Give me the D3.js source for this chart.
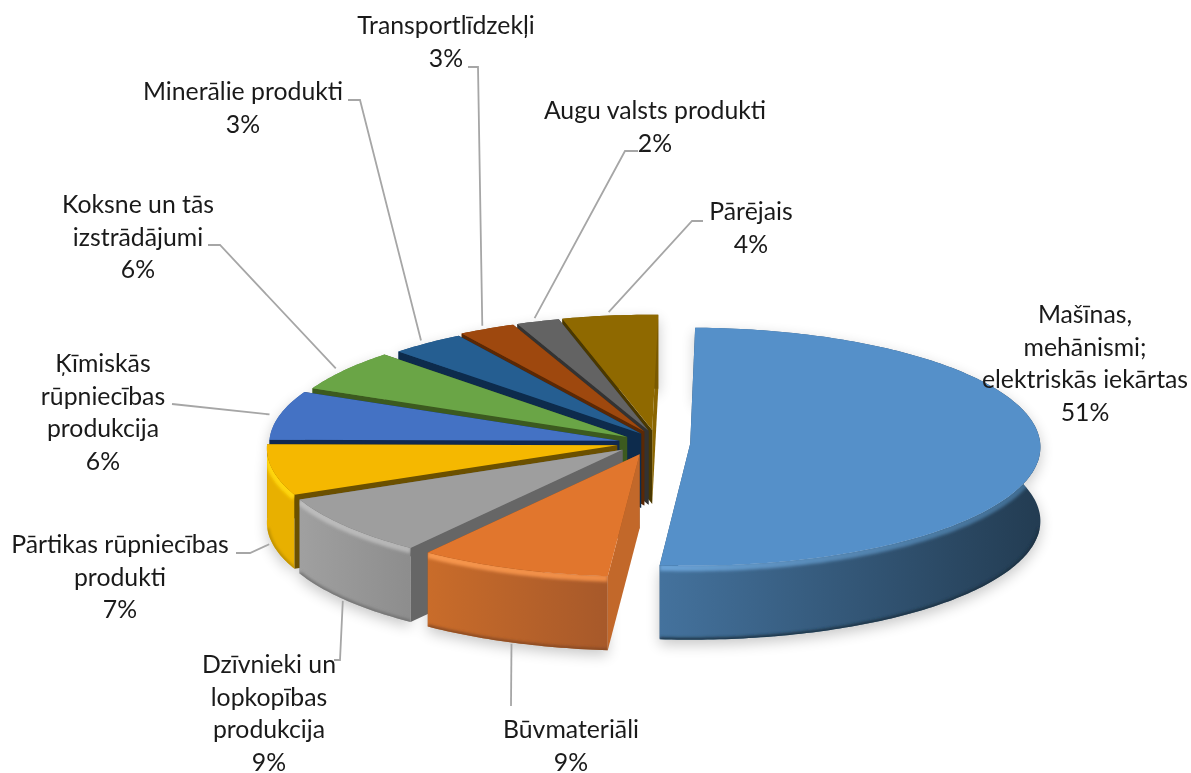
<!DOCTYPE html>
<html>
<head>
<meta charset="utf-8">
<script src="https://cdn.jsdelivr.net/npm/d3@7"></script>
<style>
  html, body { margin: 0; background: #fff; }
  text { font-family: Lato, "Open Sans", sans-serif; font-size: 24.8px; fill: #1a1a1a; text-anchor: middle; }
</style>
</head>
<body>
<div id="chart"></div>
<script>
const names = ["Mašīnas, mehānismi; elektriskās iekārtas", "Būvmateriāli", "Dzīvnieki un lopkopības produkcija",
  "Pārtikas rūpniecības produkti", "Ķīmiskās rūpniecības produkcija", "Koksne un tās izstrādājumi",
  "Minerālie produkti", "Transportlīdzekļi", "Augu valsts produkti", "Pārējais"];
// slice sizes, the printed labels are rounded
const shares = [51.3, 8.7, 8.2, 6.9, 6.7, 5.7, 3.55, 2.7, 2.05, 4.55];
const percentLabels = ["51%", "9%", "9%", "7%", "6%", "6%", "3%", "3%", "2%", "4%"];

// how each label wraps
const labelLines = [
  ["Mašīnas,", "mehānismi;", "elektriskās iekārtas"], ["Būvmateriāli"], ["Dzīvnieki un", "lopkopības", "produkcija"],
  ["Pārtikas rūpniecības", "produkti"], ["Ķīmiskās", "rūpniecības", "produkcija"], ["Koksne un tās", "izstrādājumi"],
  ["Minerālie produkti"], ["Transportlīdzekļi"], ["Augu valsts produkti"], ["Pārējais"]
];

const topColors = ["#5590c9", "#e1762d", "#9e9e9e", "#f5b800", "#4472c4", "#6aa546", "#255e91", "#9e480e", "#636363", "#8f6900"];
const wallLeft = ["#44729d", "#c96c2a", "#a0a0a0", "#e8b000", "#3a62a8", "#5a8c3b", "#1f4f7b", "#863d0c", "#545454", "#7a5900"];
const wallRight = ["#233c52", "#a7592a", "#8d8d8d", "#e8b000", "#3a62a8", "#5a8c3b", "#1f4f7b", "#863d0c", "#545454", "#7a5900"];
const sideColors = ["#2f5272", "#c2682a", "#666666", "#6b5000", "#10284f", "#3c5a1f", "#0d2b4c", "#5a2805", "#333333", "#4a3800"];
const endColors = ["#2f5272", "#8d4d1e", "#666666", "#6b5000", "#10284f", "#3c5a1f", "#0d2b4c", "#5a2805", "#333333", "#8a6500"];
const rimLeft = ["#6aa2d6", "#f6964e", "#bdbdbd", "#ffd60a", null, null, null, null, null, null];
const rimRight = ["#3f6b90", "#ee8c45", "#b5b5b5", "#ffd60a", null, null, null, null, null, null];
const explode = [0.115, 0.10, 0.09, 0.09, 0.09, 0.09, 0.10, 0.11, 0.11, 0.11];
const nudgeX = [0, 2, -3, -2, 0, 3, 13, 12, 11, 7];

// leader lines: elbow then end next to the label text
const leaderElbow = [null, null, [340, 660], [250, 553], null, [220, 245], [360, 100], [478, 67], [625, 151], [692, 221]];
const leaderEnd = [null, [511, 706], [334, 660], [236, 553], [172, 404], [208, 245], [348, 100], [468, 67], [638, 151], [703, 221]];
const leaderDrop = [0, 74, 74, 74, 0, 0, 0, 0, 0, 0];
const labelX = [1085, 571, 269, 120, 103, 138, 243, 446, 655, 751];
const labelY = [323, 738, 673, 553, 372, 213, 100, 34, 119, 220];

const width = 1191, height = 773;
const R = 350, cx = 650, cy = 443, tilt = 0.34, persp = 0.025, depth = 74, lineH = 32.7;
const rotation = 1 * Math.PI / 180;

const x = d3.scaleLinear().domain([-1, 1]).range([cx - R, cx + R]);
const y = d3.scaleLinear().domain([-1, 1]).range([cy - R * tilt, cy + R * tilt]);

// the sizes add up to a bit over 100, the last slice runs slightly past the first one's start
const arcs = d3.pie().sort(null).startAngle(rotation)
  .endAngle(rotation + 2 * Math.PI * d3.sum(shares) / 100)(shares);

// disc coordinates to screen, with a little perspective toward the viewer
function project(u, v) {
  const s = 1 + persp * v;
  return [x(u * s), y(v * s)];
}
function slicePoint(a, i, theta, r) {
  const mid = (a.startAngle + a.endAngle) / 2;
  const ex = Math.sin(mid) * explode[i], ey = -Math.cos(mid) * explode[i];
  const p = project(ex + r * Math.sin(theta), ey - r * Math.cos(theta));
  return [p[0] + nudgeX[i], p[1]];
}
function arcPoints(a, i) {
  const n = Math.max(8, Math.ceil((a.endAngle - a.startAngle) * 60));
  return d3.range(n + 1).map(k => slicePoint(a, i, a.startAngle + (a.endAngle - a.startAngle) * k / n, 1));
}

const line = d3.line();
const wall = d3.area().x(d => d[0]).y0(d => d[1]).y1(d => d[1] + depth);

const svg = d3.select("#chart").append("svg").attr("width", width).attr("height", height);
const defs = svg.append("defs");
defs.append("filter").attr("id", "shadow").attr("x", "-20%").attr("y", "-20%").attr("width", "140%").attr("height", "140%")
  .append("feGaussianBlur").attr("stdDeviation", 7);
defs.append("filter").attr("id", "rim").attr("filterUnits", "userSpaceOnUse")
  .attr("x", 0).attr("y", 0).attr("width", width).attr("height", height)
  .append("feGaussianBlur").attr("stdDeviation", 1.8);

function hGradient(id, x0, x1, c0, c1) {
  const grad = defs.append("linearGradient").attr("id", id)
    .attr("gradientUnits", "userSpaceOnUse")
    .attr("x1", x0).attr("x2", x1).attr("y1", 0).attr("y2", 0);
  grad.append("stop").attr("offset", 0).attr("stop-color", c0);
  grad.append("stop").attr("offset", 1).attr("stop-color", c1);
}

// soft shadow under the whole pie
const shadow = svg.append("g").attr("filter", "url(#shadow)").attr("opacity", 0.22);
arcs.forEach((a, i) => {
  shadow.append("path").attr("d", wall(arcPoints(a, i))).attr("transform", "translate(0,5)").attr("fill", "#000");
});

// back to front: the last slices first, the big blue one on top
const order = d3.range(arcs.length).reverse().filter(i => i !== 0).concat([0]);

order.forEach(i => {
  const a = arcs[i];
  const pts = arcPoints(a, i);
  const tip = slicePoint(a, i, a.startAngle, 0);
  const g = svg.append("g");

  const xs = d3.extent(pts, d => d[0]);
  hGradient("wall" + i, xs[0], xs[1], wallLeft[i], wallRight[i]);

  defs.append("clipPath").attr("id", "clip" + i).append("path").attr("d", wall(pts));

  g.append("path").attr("d", wall([tip, pts[pts.length - 1]])).attr("fill", endColors[i]);
  g.append("path").attr("d", wall(pts)).attr("fill", "url(#wall" + i + ")");
  g.append("path").attr("d", wall([tip, pts[0]])).attr("fill", sideColors[i]);

  if (rimLeft[i]) {
    hGradient("rimGrad" + i, xs[0], xs[1], rimLeft[i], rimRight[i]);
    const front = pts.filter(d => d[1] > cy + 10);
    const clipped = g.append("g").attr("clip-path", "url(#clip" + i + ")");
    clipped.append("path").attr("d", line(front.map(d => [d[0], d[1] + 2]))).attr("fill", "none")
      .attr("stroke", "url(#rimGrad" + i + ")").attr("stroke-width", 7).attr("filter", "url(#rim)");
    // darker line along the bottom edge
    clipped.append("path").attr("d", line(front.map(d => [d[0], d[1] + depth]))).attr("fill", "none")
      .attr("stroke", d3.color(wallRight[i]).darker(0.6)).attr("stroke-width", 4).attr("filter", "url(#rim)");
  }
  g.append("path").attr("d", line([tip, ...pts]) + "Z").attr("fill", topColors[i]);
});

// leader lines start just off the rim of their slice
arcs.forEach((a, i) => {
  if (!leaderEnd[i]) return;
  const mid = (a.startAngle + a.endAngle) / 2;
  const p = slicePoint(a, i, mid, leaderDrop[i] ? 1.01 : 1.03);
  const start = [p[0], p[1] + leaderDrop[i]];
  const path = leaderElbow[i] ? [start, leaderElbow[i], leaderEnd[i]] : [start, leaderEnd[i]];
  svg.append("path").attr("d", line(path)).attr("fill", "none").attr("stroke", "#a6a6a6").attr("stroke-width", 1.8);
});

// labels
names.forEach((name, i) => {
  const t = svg.append("text").attr("x", labelX[i]).attr("y", labelY[i]);
  labelLines[i].concat([percentLabels[i]]).forEach((s, k) => {
    t.append("tspan").attr("x", labelX[i]).attr("y", labelY[i] + k * lineH).text(s);
  });
});
</script>
</body>
</html>
